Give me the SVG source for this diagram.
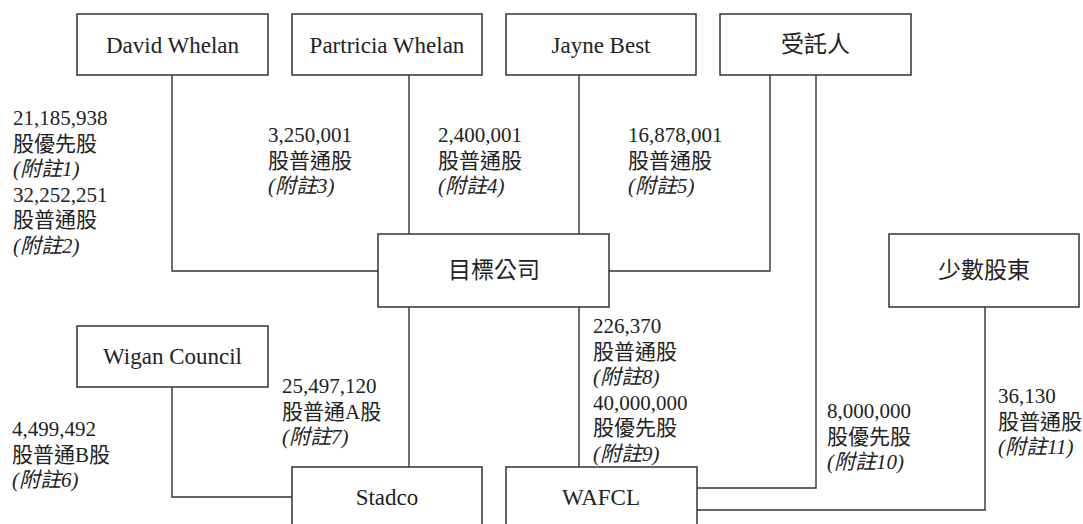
<svg xmlns="http://www.w3.org/2000/svg" width="1083" height="524" viewBox="0 0 1083 524">
<style>
.box{fill:#fff;stroke:#333;stroke-width:1.5}
.con{fill:none;stroke:#333;stroke-width:1.4}
.bt{font-family:"Liberation Serif","Noto Sans CJK TC",serif;font-size:23px;fill:#222;text-anchor:middle}
.lb{font-family:"Liberation Serif","Noto Sans CJK TC",serif;font-size:21px;fill:#222}
.it{font-style:italic}
</style>
<rect width="1083" height="524" fill="#fff"/>
<g id="connectors">
<path class="con" d="M172,75 V271 H378"/>
<path class="con" d="M409,75 V234"/>
<path class="con" d="M579,75 V234"/>
<path class="con" d="M770,75 V271 H609"/>
<path class="con" d="M816,75 V488 H697"/>
<path class="con" d="M409,307 V467"/>
<path class="con" d="M579,307 V467"/>
<path class="con" d="M172,387 V497 H292"/>
<path class="con" d="M985,307 V510 H697"/>
</g>
<g id="david"><rect class="box" x="77" y="14" width="191" height="61"/><text class="bt" x="172.5" y="53">David Whelan</text></g>
<g id="patricia"><rect class="box" x="292" y="14" width="190" height="61"/><text class="bt" x="387" y="53">Partricia Whelan</text></g>
<g id="jayne"><rect class="box" x="506" y="14" width="190" height="61"/><text class="bt" x="601" y="53">Jayne Best</text></g>
<g id="trustee"><rect class="box" x="720" y="14" width="191" height="61"/><text class="bt" x="815.5" y="51.5">受託人</text></g>
<g id="target"><rect class="box" x="378" y="234" width="231" height="73"/><text class="bt" x="494" y="277.5">目標公司</text></g>
<g id="minority"><rect class="box" x="889" y="234" width="190" height="73"/><text class="bt" x="984" y="278">少數股東</text></g>
<g id="wigan"><rect class="box" x="77" y="326" width="191" height="61"/><text class="bt" x="172.5" y="364">Wigan Council</text></g>
<g id="stadco"><rect class="box" x="292" y="467" width="190" height="70"/><text class="bt" x="387" y="505">Stadco</text></g>
<g id="wafcl"><rect class="box" x="506" y="467" width="191" height="70"/><text class="bt" x="601" y="505">WAFCL</text></g>
<g id="labels">
<text class="lb" x="13" y="125">21,185,938</text>
<text class="lb" x="13" y="150.5">股優先股</text>
<text class="lb it" x="13" y="176">(附註1)</text>
<text class="lb" x="13" y="201.5">32,252,251</text>
<text class="lb" x="13" y="227">股普通股</text>
<text class="lb it" x="13" y="252.5">(附註2)</text>

<text class="lb" x="268" y="142">3,250,001</text>
<text class="lb" x="268" y="167.5">股普通股</text>
<text class="lb it" x="268" y="193">(附註3)</text>

<text class="lb" x="438" y="142">2,400,001</text>
<text class="lb" x="438" y="167.5">股普通股</text>
<text class="lb it" x="438" y="193">(附註4)</text>

<text class="lb" x="628" y="142">16,878,001</text>
<text class="lb" x="628" y="167.5">股普通股</text>
<text class="lb it" x="628" y="193">(附註5)</text>

<text class="lb" x="593" y="333">226,370</text>
<text class="lb" x="593" y="358.5">股普通股</text>
<text class="lb it" x="593" y="384">(附註8)</text>
<text class="lb" x="593" y="409.5">40,000,000</text>
<text class="lb" x="593" y="435">股優先股</text>
<text class="lb it" x="593" y="460.5">(附註9)</text>

<text class="lb" x="282" y="393">25,497,120</text>
<text class="lb" x="282" y="418.5">股普通A股</text>
<text class="lb it" x="282" y="444">(附註7)</text>

<text class="lb" x="12" y="436">4,499,492</text>
<text class="lb" x="12" y="461.5">股普通B股</text>
<text class="lb it" x="12" y="487">(附註6)</text>

<text class="lb" x="827" y="418">8,000,000</text>
<text class="lb" x="827" y="443.5">股優先股</text>
<text class="lb it" x="827" y="469">(附註10)</text>

<text class="lb" x="998" y="403">36,130</text>
<text class="lb" x="998" y="428.5">股普通股</text>
<text class="lb it" x="998" y="454">(附註11)</text>
</g>
</svg>
